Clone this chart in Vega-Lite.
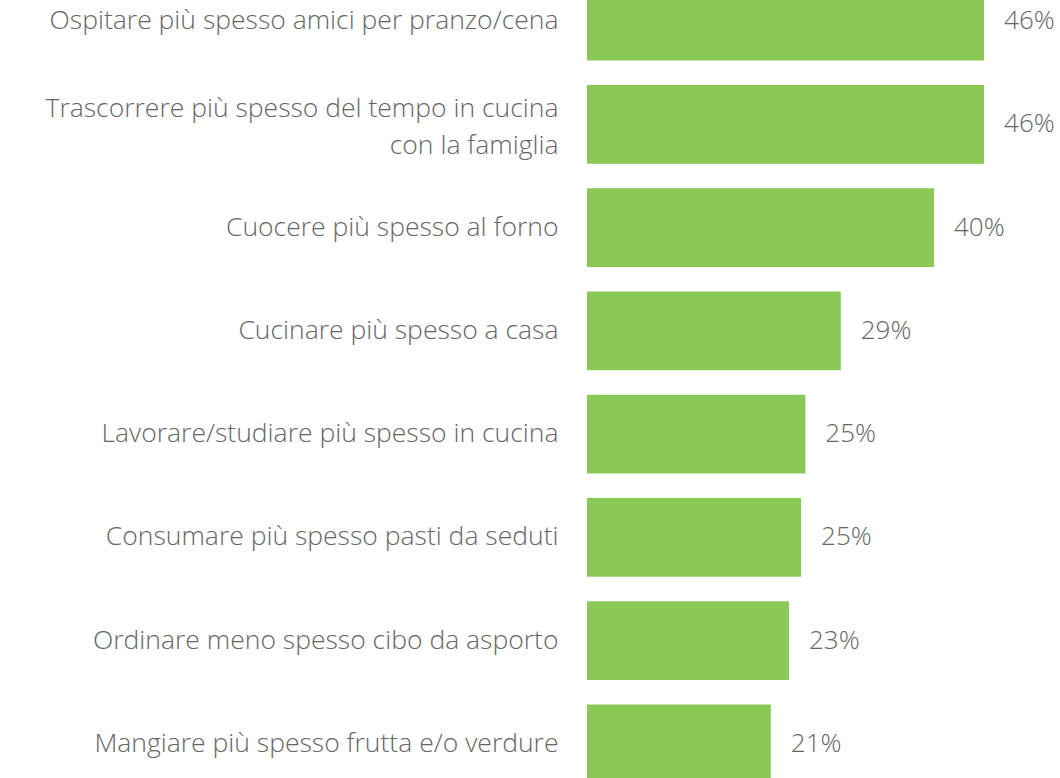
{
  "$schema": "https://vega.github.io/schema/vega-lite/v6.json",
  "width": 473,
  "height": 826,
  "autosize": {"type": "none"},
  "padding": {"left": 587, "top": -30.5, "right": 0, "bottom": 0},
  "background": "white",
  "config": {"view": {"stroke": null}, "font": "Open Sans"},
  "data": {
    "values": [
      {"item": "Ospitare più spesso amici per pranzo/cena", "pct": 0.46},
      {"item": "Trascorrere più spesso del tempo in cucina|con la famiglia", "pct": 0.46},
      {"item": "Cuocere più spesso al forno", "pct": 0.402},
      {"item": "Cucinare più spesso a casa", "pct": 0.294},
      {"item": "Lavorare/studiare più spesso in cucina", "pct": 0.253},
      {"item": "Consumare più spesso pasti da seduti", "pct": 0.248},
      {"item": "Ordinare meno spesso cibo da asporto", "pct": 0.234},
      {"item": "Mangiare più spesso frutta e/o verdure", "pct": 0.213}
    ]
  },
  "encoding": {
    "y": {
      "field": "item",
      "type": "nominal",
      "sort": null,
      "scale": {"paddingInner": 0.235, "paddingOuter": 0.1175},
      "axis": {
        "title": null,
        "ticks": false,
        "domain": false,
        "labelPadding": 29,
        "labelFontSize": 26.5,
        "labelFont": "Open Sans",
        "labelFontWeight": 300,
        "labelColor": "#666666",
        "labelLimit": 700,
        "labelLineHeight": 37,
        "labelOffset": {"condition": {"test": "indexof(datum.value, '|') >= 0", "value": -15}, "value": 0},
        "labelExpr": "split(datum.value, '|')"
      }
    },
    "x": {
      "field": "pct",
      "type": "quantitative",
      "scale": {"domain": [0, 0.548], "nice": false},
      "axis": null
    }
  },
  "layer": [
    {"mark": {"type": "bar", "color": "#8BC957"}},
    {
      "mark": {"type": "text", "align": "left", "baseline": "middle", "dx": 20, "fontSize": 26, "font": "Open Sans", "fontWeight": 300, "color": "#666666"},
      "encoding": {"text": {"field": "pct", "type": "quantitative", "format": ".0%"}}
    }
  ]
}
